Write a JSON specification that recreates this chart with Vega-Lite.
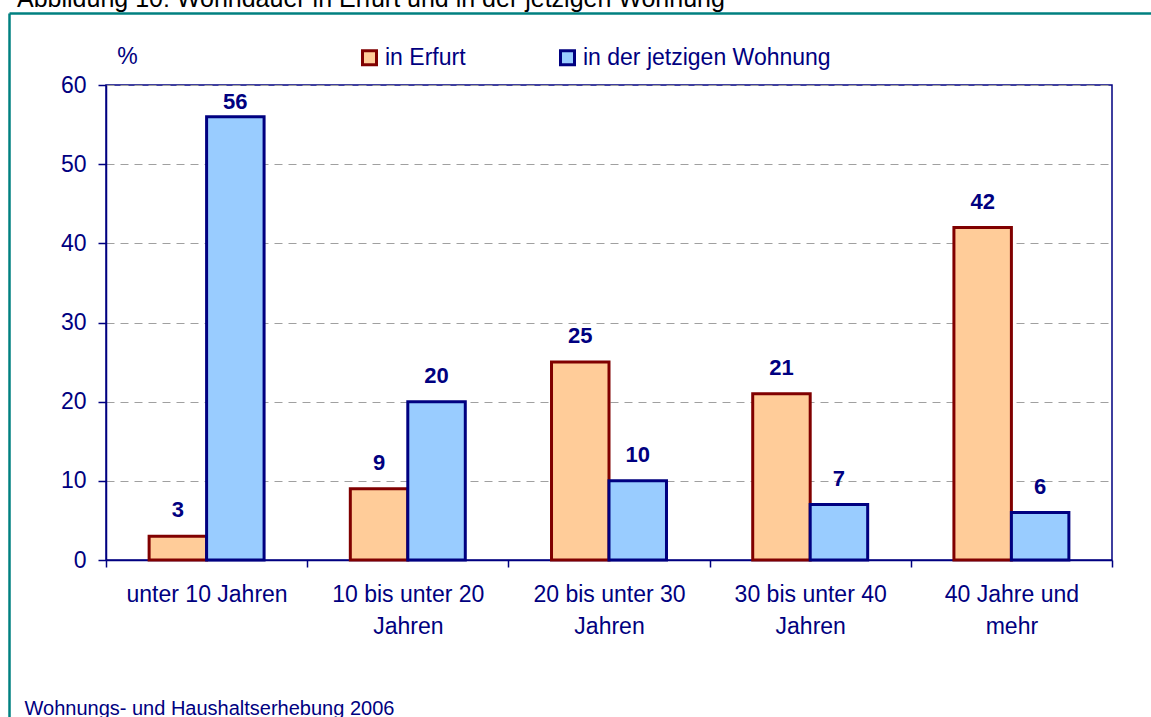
{
  "$schema": "https://vega.github.io/schema/vega-lite/v6.json",
  "width": 1006,
  "height": 475,
  "autosize": {"type": "none"},
  "padding": {"left": 106, "top": 85, "right": 39, "bottom": 157},
  "background": "white",
  "title": {
    "text": "Abbildung 10: Wohndauer in Erfurt und in der jetzigen Wohnung",
    "anchor": "start",
    "frame": "group",
    "dx": -89,
    "dy": 21,
    "baseline": "alphabetic",
    "offset": 2,
    "font": "Liberation Sans",
    "fontSize": 25,
    "fontWeight": "normal",
    "color": "#000000"
  },
  "data": {
    "values": [
      {"cat": "unter 10 Jahren", "series": "in Erfurt", "value": 3},
      {"cat": "unter 10 Jahren", "series": "in der jetzigen Wohnung", "value": 56},
      {"cat": "10 bis unter 20|Jahren", "series": "in Erfurt", "value": 9},
      {"cat": "10 bis unter 20|Jahren", "series": "in der jetzigen Wohnung", "value": 20},
      {"cat": "20 bis unter 30|Jahren", "series": "in Erfurt", "value": 25},
      {"cat": "20 bis unter 30|Jahren", "series": "in der jetzigen Wohnung", "value": 10},
      {"cat": "30 bis unter 40|Jahren", "series": "in Erfurt", "value": 21},
      {"cat": "30 bis unter 40|Jahren", "series": "in der jetzigen Wohnung", "value": 7},
      {"cat": "40 Jahre und|mehr", "series": "in Erfurt", "value": 42},
      {"cat": "40 Jahre und|mehr", "series": "in der jetzigen Wohnung", "value": 6}
    ]
  },
  "layer": [
    {
      "layer": [
        {
          "mark": {"type": "bar", "strokeWidth": 3},
          "encoding": {
            "x": {
              "field": "cat", "type": "nominal", "sort": null,
              "scale": {"paddingInner": 0, "paddingOuter": 0},
              "axis": {
                "labelAngle": 0,
                "labelExpr": "split(datum.label, '|')",
                "labelBaseline": "top",
                "labelPadding": 16,
                "labelLineHeight": 32,
                "tickBand": "extent",
                "tickSize": 7,
                "grid": false,
                "title": "Wohnungs- und Haushaltserhebung 2006",
                "titleX": -82,
                "titleY": 154,
                "titleAlign": "left",
                "titleAnchor": "start",
                "titleBaseline": "alphabetic",
                "titleFontSize": 20
              }
            },
            "xOffset": {
              "field": "series", "type": "nominal",
              "sort": ["in Erfurt", "in der jetzigen Wohnung"],
              "scale": {"paddingInner": 0, "paddingOuter": 0.75}
            },
            "y": {
              "field": "value", "type": "quantitative",
              "scale": {"domain": [0, 60], "nice": false},
              "axis": {
                "values": [0, 10, 20, 30, 40, 50, 60],
                "grid": true,
                "gridColor": "#A0A0A0",
                "gridDash": [8, 6],
                "gridWidth": 1,
                "tickSize": 8,
                "labelPadding": 12,
                "title": "%",
                "titleAngle": 0,
                "titleX": 21,
                "titleY": -22,
                "titleAlign": "center",
                "titleBaseline": "alphabetic",
                "titleFontSize": 23
              }
            },
            "fill": {
              "field": "series", "type": "nominal", "title": null,
              "sort": ["in Erfurt", "in der jetzigen Wohnung"],
              "scale": {"domain": ["in Erfurt", "in der jetzigen Wohnung"], "range": ["#FFCC99", "#99CCFF"]}
            },
            "stroke": {
              "field": "series", "type": "nominal", "title": null,
              "sort": ["in Erfurt", "in der jetzigen Wohnung"],
              "scale": {"domain": ["in Erfurt", "in der jetzigen Wohnung"], "range": ["#800000", "#000080"]}
            }
          }
        },
        {
          "transform": [{"filter": "datum.value < 50"}],
          "mark": {"type": "text", "dy": -19, "baseline": "alphabetic", "fontWeight": "bold", "fontSize": 22, "color": "#000080", "font": "Liberation Sans"},
          "encoding": {
            "x": {"field": "cat", "type": "nominal", "sort": null},
            "xOffset": {"field": "series", "type": "nominal", "sort": ["in Erfurt", "in der jetzigen Wohnung"]},
            "y": {"field": "value", "type": "quantitative"},
            "text": {"field": "value", "type": "quantitative"}
          }
        },
        {
          "transform": [{"filter": "datum.value >= 50"}],
          "mark": {"type": "text", "dy": -8, "baseline": "alphabetic", "fontWeight": "bold", "fontSize": 22, "color": "#000080", "font": "Liberation Sans"},
          "encoding": {
            "x": {"field": "cat", "type": "nominal", "sort": null},
            "xOffset": {"field": "series", "type": "nominal", "sort": ["in Erfurt", "in der jetzigen Wohnung"]},
            "y": {"field": "value", "type": "quantitative"},
            "text": {"field": "value", "type": "quantitative"}
          }
        }
      ]
    },
    {
      "mark": {"type": "point", "opacity": 0},
      "encoding": {
        "y": {
          "field": "value", "type": "quantitative",
          "scale": {"range": [632, -72]},
          "axis": {"orient": "left", "offset": 97, "domainColor": "#008080", "domainWidth": 2.5, "ticks": false, "labels": false, "grid": false, "title": null}
        }
      }
    },
    {
      "mark": {"type": "point", "opacity": 0},
      "encoding": {
        "x": {
          "field": "value", "type": "quantitative",
          "scale": {"range": [-97, 1045]},
          "axis": {"orient": "top", "offset": 72, "domainColor": "#008080", "domainWidth": 2.5, "ticks": false, "labels": false, "grid": false, "title": null}
        }
      }
    }
  ],
  "resolve": {"scale": {"x": "independent", "y": "independent"}},
  "config": {
    "font": "Liberation Sans",
    "view": {"stroke": "#000080", "strokeWidth": 1.5},
    "axis": {
      "labelFont": "Liberation Sans",
      "labelFontSize": 23,
      "labelColor": "#000080",
      "domainColor": "#000080",
      "domainWidth": 1.5,
      "tickColor": "#000080",
      "tickWidth": 1.5,
      "titleFont": "Liberation Sans",
      "titleFontWeight": "normal",
      "titleColor": "#000080"
    },
    "legend": {
      "orient": "none",
      "legendX": 252,
      "legendY": -39,
      "direction": "horizontal",
      "symbolType": "square",
      "symbolSize": 196,
      "symbolStrokeWidth": 3,
      "labelFont": "Liberation Sans",
      "labelFontSize": 23,
      "labelColor": "#000080",
      "labelOffset": 4,
      "labelLimit": 500,
      "columnPadding": 88,
      "padding": 0
    }
  }
}
